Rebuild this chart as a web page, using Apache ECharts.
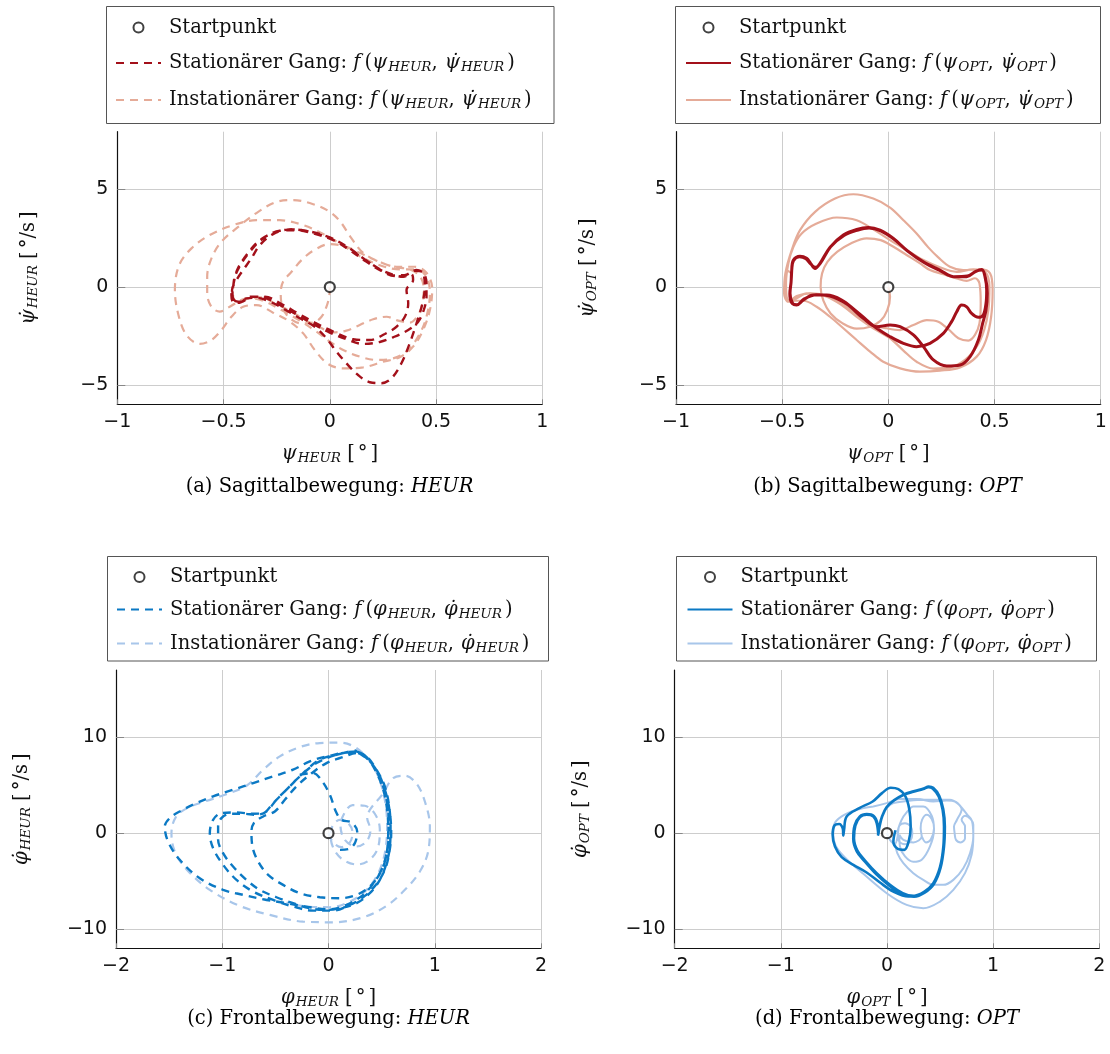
<!DOCTYPE html>
<html>
<head>
<meta charset="utf-8">
<script src="https://cdn.jsdelivr.net/npm/echarts@6/dist/echarts.min.js"></script>
<style>
html,body{margin:0;padding:0;background:#fff;}
#chart{width:1110px;height:1054px;}
</style>
</head>
<body>
<div id="chart"></div>
<script>
// ---------------- data ----------------
const startPoint = [[0, 0]];

const sagYTicks = [-5, 0, 5];
const froYTicks = [-10, 0, 10];

// (a) psi HEUR, stationary
const psiHeurStat = [
[-0.455,0.02],[-0.436,0.87],[-0.392,1.64],[-0.329,2.40],[-0.251,2.83],[-0.173,2.95],[-0.094,2.83],[0,2.49],[0.078,2.03],[0.157,1.47],[0.235,0.90],[0.298,0.60],[0.353,0.61],[0.400,0.83],[0.436,0.78],[0.455,0.19],[0.455,-0.49],[0.442,-1.18],[0.416,-1.77],[0.369,-2.20],[0.298,-2.57],[0.235,-2.81],[0.157,-2.91],[0.078,-2.67],[0,-2.33],[-0.078,-1.89],[-0.157,-1.40],[-0.235,-0.92],[-0.314,-0.53],[-0.376,-0.49],[-0.424,-0.80],[-0.452,-0.80],[-0.463,-0.41],[-0.455,0.02],
[-0.447,0.53],[-0.416,1.21],[-0.376,1.81],[-0.314,2.49],[-0.235,2.88],[-0.157,2.91],[-0.078,2.74],[0.016,2.40],[0.094,1.89],[0.173,1.29],[0.243,0.83],[0.306,0.56],[0.361,0.63],[0.408,0.87],[0.439,0.70],[0.447,0.02],[0.436,-0.83],[0.408,-1.86],[0.376,-2.88],[0.337,-3.90],[0.290,-4.67],[0.243,-4.92],[0.188,-4.87],[0.133,-4.50],[0.078,-3.90],[0.031,-3.30],[-0.016,-2.62],[-0.071,-2.03],[-0.141,-1.60],[-0.212,-1.14],[-0.282,-0.75],[-0.345,-0.55],[-0.392,-0.58],[-0.431,-0.75],[-0.455,-0.58],[-0.460,-0.15],
[-0.439,0.36],[-0.408,0.87],[-0.369,1.47],[-0.329,2.15],[-0.267,2.71],[-0.188,2.95],[-0.102,2.86],[0,2.54],[0.086,2.03],[0.165,1.41],[0.243,0.87],[0.298,0.63],[0.345,0.53],[0.384,0.66],[0.392,0.36],[0.361,-0.15],[0.369,-0.83],[0.353,-1.52],[0.314,-2.03],[0.259,-2.40],[0.188,-2.71],[0.110,-2.67],[0.016,-2.28],[-0.071,-1.82],[-0.149,-1.35],[-0.227,-0.87],[-0.306,-0.49],[-0.369,-0.49],[-0.416,-0.75],[-0.447,-0.75],[-0.458,-0.32],[-0.452,0.10]
];
// (a) psi HEUR, instationary
const psiHeurInst = [
[0,0],[-0.003,-0.49],[-0.016,-1.01],[-0.039,-1.52],[-0.078,-1.82],[-0.133,-1.86],[-0.188,-1.60],[-0.223,-1.01],[-0.231,-0.32],[-0.220,0.27],[-0.180,0.78],[-0.133,1.38],[-0.078,1.86],[0,2.20],[0.078,2.06],[0.141,1.75],[0.220,1.35],[0.298,1.04],[0.376,0.90],[0.424,0.56],[0.442,-0.12],[0.436,-0.83],[0.416,-1.43],[0.376,-1.82],[0.322,-1.72],[0.267,-1.52],[0.204,-1.65],[0.141,-1.94],[0.078,-2.23],[0.016,-2.32],[-0.047,-2.06],[-0.110,-1.72],[-0.173,-1.31],[-0.251,-0.87],[-0.329,-0.53],[-0.408,-0.63],[-0.471,-1.01],[-0.518,-1.26],[-0.557,-1.01],[-0.577,-0.32],[-0.577,0.53],[-0.557,1.47],[-0.510,2.32],[-0.431,3.08],[-0.337,3.85],[-0.251,4.36],[-0.173,4.45],[-0.078,4.24],[0,3.85],[0.050,3.34],[0.097,2.57],[0.157,1.75],[0.235,1.29],[0.314,1.04],[0.400,1.04],[0.455,0.73],[0.482,-0.07],[0.471,-1.18],[0.439,-2.20],[0.392,-3.05],[0.329,-3.59],[0.251,-3.82],[0.157,-4.11],[0.063,-4.16],[-0.008,-3.94],[-0.071,-3.22],[-0.125,-2.37],[-0.188,-1.77],[-0.267,-1.31],[-0.345,-0.92],[-0.408,-1.01],[-0.463,-1.52],[-0.510,-2.20],[-0.557,-2.71],[-0.612,-2.91],[-0.675,-2.45],[-0.714,-1.35],[-0.729,-0.15],[-0.709,1.12],[-0.651,1.98],[-0.565,2.66],[-0.455,3.17],[-0.345,3.42],[-0.235,3.42],[-0.125,3.17],[-0.031,2.71],[0.047,2.23],[0.141,1.58],[0.235,1.12],[0.329,0.90],[0.408,0.90],[0.455,0.53],[0.471,-0.32],[0.455,-1.52],[0.424,-2.37],[0.369,-3.22],[0.298,-3.65],[0.220,-3.73],[0.141,-3.56],[0.063,-3.22],[0,-2.79],[-0.063,-2.28],[-0.141,-1.72],[-0.227,-1.18],[-0.314,-0.70],[-0.376,-0.58],[-0.431,-0.80],[-0.455,-0.49],[-0.455,0.02]
];

// (b) psi OPT, stationary
const psiOptStat = [
[-0.455,0.87],[-0.447,1.38],[-0.416,1.58],[-0.385,1.47],[-0.366,1.21],[-0.345,0.95],[-0.322,1.21],[-0.275,2.03],[-0.212,2.66],[-0.149,2.95],[-0.094,3.05],[-0.039,2.91],[0.024,2.49],[0.086,1.89],[0.165,1.29],[0.243,0.87],[0.306,0.53],[0.369,0.53],[0.408,0.78],[0.440,0.90],[0.455,0.53],[0.463,-0.15],[0.460,-0.83],[0.447,-1.43],[0.424,-1.55],[0.392,-1.35],[0.369,-1.01],[0.345,-0.92],[0.322,-1.26],[0.298,-1.77],[0.259,-2.37],[0.196,-2.88],[0.133,-3.05],[0.071,-2.88],[0.008,-2.54],[-0.055,-2.11],[-0.102,-1.69],[-0.157,-1.18],[-0.220,-0.66],[-0.290,-0.41],[-0.353,-0.41],[-0.400,-0.66],[-0.432,-0.92],[-0.451,-0.83],[-0.463,-0.32],[-0.458,0.27],[-0.455,0.87],
[-0.447,1.35],[-0.419,1.55],[-0.388,1.45],[-0.366,1.18],[-0.343,1.01],[-0.319,1.24],[-0.272,2.06],[-0.209,2.64],[-0.146,2.91],[-0.091,3.02],[-0.036,2.88],[0.027,2.45],[0.089,1.86],[0.168,1.26],[0.246,0.83],[0.309,0.53],[0.372,0.56],[0.411,0.80],[0.441,0.87],[0.458,0.44],[0.466,-0.32],[0.460,-1.18],[0.444,-1.86],[0.424,-2.71],[0.385,-3.56],[0.338,-3.99],[0.275,-4.04],[0.212,-3.73],[0.165,-3.05],[0.118,-2.45],[0.055,-2.03],[0.008,-1.94],[-0.055,-2.03],[-0.118,-1.60],[-0.196,-0.87],[-0.275,-0.46],[-0.340,-0.40],[-0.398,-0.62],[-0.430,-0.90],[-0.452,-0.85],[-0.464,-0.35],[-0.458,0.27],[-0.455,0.87]
];
// (b) psi OPT, instationary
const psiOptInst = [
[0,0],[0.008,-0.49],[-0.005,-1.18],[-0.036,-1.72],[-0.086,-2.03],[-0.149,-2.13],[-0.215,-1.86],[-0.272,-1.35],[-0.306,-0.70],[-0.319,0.02],[-0.312,0.70],[-0.287,1.29],[-0.240,1.81],[-0.177,2.23],[-0.102,2.49],[-0.036,2.40],[0.024,2.06],[0.086,1.64],[0.149,1.21],[0.196,0.87],[0.259,0.66],[0.322,0.44],[0.369,0.32],[0.408,0.45],[0.429,0.19],[0.435,-0.83],[0.429,-1.86],[0.408,-2.45],[0.377,-2.74],[0.330,-2.62],[0.283,-2.16],[0.235,-1.77],[0.181,-1.69],[0.118,-1.94],[0.055,-2.20],[-0.008,-2.11],[-0.071,-1.94],[-0.133,-1.52],[-0.196,-1.01],[-0.259,-0.58],[-0.322,-0.36],[-0.385,-0.32],[-0.432,-0.58],[-0.463,-0.75],[-0.479,-0.49],[-0.482,0.19],[-0.471,1.21],[-0.447,2.06],[-0.408,2.74],[-0.338,3.25],[-0.243,3.56],[-0.149,3.42],[-0.071,2.95],[0.008,2.40],[0.086,1.89],[0.165,1.38],[0.243,1.01],[0.322,0.78],[0.400,0.90],[0.455,0.78],[0.476,0.02],[0.471,-1.18],[0.451,-2.20],[0.416,-3.05],[0.361,-3.73],[0.290,-4.11],[0.212,-4.17],[0.133,-3.82],[0.071,-3.25],[0.008,-2.62],[-0.071,-2.11],[-0.149,-1.52],[-0.220,-0.92],[-0.290,-0.49],[-0.369,-0.32],[-0.432,-0.46],[-0.471,-0.75],[-0.491,-0.32],[-0.485,0.70],[-0.455,1.89],[-0.416,2.91],[-0.345,3.85],[-0.251,4.53],[-0.165,4.75],[-0.071,4.53],[0.008,4.07],[0.071,3.42],[0.133,2.74],[0.188,2.03],[0.235,1.52],[0.290,1.04],[0.353,0.87],[0.432,0.90],[0.479,0.70],[0.491,-0.15],[0.484,-1.52],[0.460,-2.71],[0.416,-3.56],[0.338,-4.11],[0.243,-4.28],[0.149,-4.33],[0.055,-4.16],[-0.024,-3.82],[-0.086,-3.30],[-0.149,-2.71],[-0.212,-2.11],[-0.275,-1.52],[-0.338,-1.01],[-0.400,-0.70],[-0.447,-0.70],[-0.479,-0.58],[-0.487,0.02],[-0.479,0.87],[-0.455,0.70]
];

// (c) phi HEUR, stationary
const phiHeurStat = [
[-0.270,6.09],[-0.144,6.26],[-0.066,5.50],[0.013,4.00],[0.069,2.26],[0.122,1.39],[0.217,1.11],[0.270,0.17],[0.248,-1.04],[0.185,-1.67],[0.107,-1.74],
'-',
[0.264,8.52],[0.358,8.00],[0.452,6.61],[0.530,4.87],[0.571,2.78],[0.584,0.70],[0.578,-1.39],[0.546,-3.13],[0.483,-4.87],[0.389,-6.26],[0.264,-7.30],[0.107,-7.83],[-0.019,-8.00],[-0.176,-7.83],[-0.333,-7.30],[-0.490,-6.68],[-0.647,-5.91],[-0.772,-4.87],[-0.898,-3.48],[-0.992,-2.09],[-1.039,-0.70],[-1.039,0.70],[-1.008,1.57],[-0.929,2.02],[-0.804,2.02],[-0.678,1.91],[-0.584,2.26],[-0.490,3.48],[-0.364,4.87],[-0.239,6.26],[-0.082,7.65],[0.075,8.17],[0.264,8.52],
[0.358,7.93],[0.446,6.43],[0.515,4.52],[0.552,2.43],[0.562,0.35],[0.552,-1.74],[0.515,-3.48],[0.436,-5.04],[0.326,-6.43],[0.169,-7.48],[0.013,-7.93],[-0.176,-7.72],[-0.395,-7.30],[-0.615,-6.89],[-0.804,-6.43],[-0.992,-5.91],[-1.212,-4.70],[-1.400,-2.78],[-1.510,-0.87],[-1.541,0.70],[-1.494,1.57],[-1.400,2.26],[-1.243,3.13],[-1.086,3.83],[-0.898,4.52],[-0.709,5.22],[-0.521,5.91],[-0.333,6.61],[-0.176,7.48],[0.013,8.07],[0.201,8.42],[0.279,8.35],
[0.311,8.17],[0.405,7.30],[0.483,5.74],[0.540,3.83],[0.565,1.74],[0.565,-0.35],[0.540,-2.43],[0.483,-4.17],[0.389,-5.57],[0.264,-6.43],[0.107,-6.78],[-0.082,-6.68],[-0.270,-6.26],[-0.427,-5.39],[-0.568,-4.35],[-0.662,-2.96],[-0.716,-1.39],[-0.725,0.17],[-0.703,1.04],[-0.615,1.74],[-0.505,2.26],[-0.411,3.48],[-0.301,4.87],[-0.176,6.09],[-0.019,7.30],[0.138,7.93],[0.264,8.35],
[0.358,7.83],[0.468,6.26],[0.540,4.17],[0.578,2.09],[0.590,0],[0.571,-2.09],[0.530,-3.83],[0.452,-5.29],[0.342,-6.54],[0.201,-7.48],[0.044,-8.07],[-0.144,-8.07],[-0.333,-7.65],[-0.521,-6.96],[-0.709,-6.09],[-0.866,-4.87],[-0.992,-3.30],[-1.086,-1.57],[-1.117,0],[-1.086,1.39],[-1.008,2.09],[-0.866,2.16],[-0.709,2.02],[-0.615,2.09],[-0.521,3.13],[-0.411,4.35],[-0.270,5.91],[-0.113,7.30],[0.075,8.17],[0.264,8.63]
];
// (c) phi HEUR, instationary
const phiHeurInst = [
[0,0],[0.044,-0.97],[0.122,-1.46],[0.201,-0.97],[0.226,0.07],[0.185,1.04],[0.107,1.39],[0.044,0.87],[0.019,-0.17],[0.050,-1.67],[0.138,-2.78],[0.270,-3.27],[0.395,-2.71],[0.471,-1.32],[0.483,0.42],[0.436,2.02],[0.342,2.85],[0.226,2.92],[0.154,2.16],[0.113,0.77],[0.154,-0.70],[0.264,-1.39],[0.358,-0.87],[0.395,0.35],[0.364,1.57],[0.515,4.17],[0.609,5.74],[0.719,5.98],[0.829,5.15],[0.907,3.30],[0.954,0.70],[0.938,-1.91],[0.860,-4.00],[0.719,-5.91],[0.546,-7.58],[0.326,-8.77],[0.044,-9.29],[-0.239,-9.22],[-0.552,-8.52],[-0.835,-7.58],[-1.117,-5.91],[-1.331,-3.83],[-1.447,-1.91],[-1.478,0],[-1.437,1.67],[-1.331,2.61],[-1.164,3.30],[-0.976,4.00],[-0.772,4.94],[-0.615,6.61],[-0.458,8.00],[-0.270,8.97],[-0.082,9.39],[0.107,9.43],[0.248,8.97],[0.373,7.72],[0.468,5.91],[0.530,3.48],[0.552,0.70],[0.530,-2.09],[0.468,-4.17],[0.358,-5.91],[0.201,-7.13],[0.013,-7.72],[-0.207,-7.65],[-0.395,-7.23]
];

// (d) phi OPT, stationary
const phiOptStat = [
[-0.082,-0.17],[-0.097,1.04],[-0.129,1.74],[-0.192,1.91],[-0.254,1.67],[-0.298,0.77],[-0.311,-0.52],[-0.279,-1.81],[-0.207,-2.85],[-0.097,-4.17],[0.028,-5.39],[0.148,-6.26],[0.248,-6.54],[0.349,-6.12],[0.436,-5.22],[0.499,-3.55],[0.531,-1.39],[0.537,0.70],[0.524,2.43],[0.487,3.83],[0.430,4.66],[0.389,4.80],[0.342,4.59],[0.248,4.31],[0.154,3.97],[0.066,3.41],[-0.003,2.71],[-0.047,1.74],[-0.072,0.70],[-0.082,-0.17],
[-0.090,1.00],[-0.125,1.80],[-0.190,1.98],[-0.258,1.72],[-0.305,0.80],[-0.318,-0.55],[-0.285,-1.90],[-0.210,-2.95],[-0.100,-4.30],[0.025,-5.50],[0.150,-6.40],[0.255,-6.62],[0.355,-6.20],[0.442,-5.30],[0.505,-3.60],[0.537,-1.40],[0.545,0.70],[0.530,2.50],[0.492,3.90],[0.435,4.72],[0.392,4.85],[0.345,4.65],[0.250,4.36],[0.156,4.02],[0.068,3.45],[0.000,2.75],[-0.045,1.75],[-0.070,0.70],[-0.085,-0.25],
'-',
[0.342,-6.26],[0.201,-6.61],[0.060,-6.09],[-0.066,-5.15],[-0.192,-4.10],[-0.317,-3.30],[-0.427,-2.50],[-0.490,-1.39],[-0.512,-0.17],[-0.495,0.80],[-0.450,0.95],[-0.415,0.40],[-0.412,-0.25],[-0.405,0.30],[-0.380,1.74],[-0.261,2.61],[-0.135,3.30],[-0.047,4.17],[0.035,4.73],[0.107,4.59],[0.170,3.90],[0.210,2.50],[0.223,0.70],[0.204,-0.87],[0.163,-1.74],[0.097,-1.60],[0.060,-0.87],[0.080,0.30]
];
// (d) phi OPT, instationary
const phiOptInst = [
[0,0],[0.028,-0.70],[0.075,-1.11],[0.100,-0.35],[0.116,0.77],[0.170,1.04],[0.223,0.70],[0.239,0],[0.217,-0.87],[0.170,-1.15],[0.116,-0.87],[0.100,0],[0.138,1.39],[0.185,2.16],[0.248,2.78],[0.342,2.78],[0.421,1.81],[0.443,0.35],[0.405,-1.39],[0.327,-2.78],[0.248,-2.99],[0.170,-2.43],[0.122,-1.39],[0.116,-0.17],[0.154,-0.70],[0.248,-0.97],[0.327,-0.35],[0.317,0.52],[0.330,1.39],[0.374,1.91],[0.421,1.46],[0.443,0.52],[0.411,-0.70],[0.367,-0.97],[0.330,-0.40],
'-',
[-0.003,2.61],[0.060,3.13],[0.185,3.34],[0.342,3.48],[0.499,3.48],[0.593,3.48],[0.662,3.13],[0.703,2.50],[0.656,1.32],[0.631,0.70],[0.637,0],[0.650,-0.70],[0.694,-0.97],[0.735,-0.52],[0.735,0.70],[0.703,1.39],[0.735,1.81],[0.788,1.46],[0.813,0.87],[0.813,-0.35],[0.782,-2.09],[0.719,-3.65],[0.625,-4.87],[0.531,-5.39],[0.436,-5.39],[0.342,-4.87],[0.248,-4.17],[0.154,-3.13],[0.097,-2.09],[0.075,-1.10],
'-',
[-0.129,2.78],[-0.286,2.43],[-0.427,1.74],[-0.499,0.87],[-0.506,0],[-0.480,-1.39],[-0.380,-2.71],[-0.223,-4.24],[-0.003,-6.26],[0.185,-7.48],[0.342,-7.83],[0.499,-7.13],[0.625,-5.91],[0.735,-4.17],[0.797,-2.26],[0.813,-0.30],[0.800,1.30],[0.757,1.90],[0.700,2.70],[0.650,3.25],[0.562,3.40],[0.436,3.30],[0.279,3.55],[0.122,3.55],[-0.003,3.13],[-0.129,2.78]
];

// ---------------- styling ----------------
const SERIF = 'DejaVu Serif';
const SANS = 'DejaVu Sans';
const TXT = '#111';
const RED = '#a3101a', RED_L = '#e5ab98', BLUE = '#0b79c4', BLUE_L = '#a8c6ea';
const DASH = [8, 6];

const FS = 19.5;
function rich(lh) {
  return {
    n: {fontFamily: SERIF, fontSize: FS, color: TXT, lineHeight: lh},
    i: {fontFamily: SERIF, fontStyle: 'italic', fontSize: FS, color: TXT, lineHeight: lh},
    f: {fontFamily: SERIF, fontStyle: 'italic', fontSize: FS, color: TXT, lineHeight: lh, padding: [0, 4, 0, 0]},
    g: {fontFamily: SERIF, fontStyle: 'italic', fontSize: FS, color: TXT, lineHeight: lh, padding: [0, 1, 0, 0]},
    c: {fontFamily: SERIF, fontSize: FS, color: TXT, lineHeight: lh, padding: [0, 7, 0, 0]},
    p: {fontFamily: SERIF, fontSize: FS, color: TXT, lineHeight: lh, padding: [0, 0, 0, 3]},
    d: {fontFamily: SERIF, fontSize: FS, color: TXT, lineHeight: lh, padding: [0, 3, 0, 3]},
    s: {fontFamily: SERIF, fontStyle: 'italic', fontSize: 13.5, color: TXT, lineHeight: 13, padding: [9, 0, 0, 0]}
  };
}
const DOT = '\u0307';
function pair(sym, sub) {
  return '{f|f}{n|(}{g|' + sym + '}{s|' + sub + '}{c|,}{g|' + sym + DOT + '}{s|' + sub + '}{p|)}';
}
const labels = {
  a0: '{n|Startpunkt}', a1: '{n|Stationärer Gang: }' + pair('ψ', 'HEUR'), a2: '{n|Instationärer Gang: }' + pair('ψ', 'HEUR'),
  b0: '{n|Startpunkt}', b1: '{n|Stationärer Gang: }' + pair('ψ', 'OPT'), b2: '{n|Instationärer Gang: }' + pair('ψ', 'OPT'),
  c0: '{n|Startpunkt}', c1: '{n|Stationärer Gang: }' + pair('φ', 'HEUR'), c2: '{n|Instationärer Gang: }' + pair('φ', 'HEUR'),
  d0: '{n|Startpunkt}', d1: '{n|Stationärer Gang: }' + pair('φ', 'OPT'), d2: '{n|Instationärer Gang: }' + pair('φ', 'OPT')
};
const xName = (sym, sub) => '{g|' + sym + '}{s|' + sub + '}{n| [}{d|°}{n|]}';
const yName = (sym, sub) => '{g|' + sym + DOT + '}{s|' + sub + '}{n| [}{d|°/s}{n|]}';

const grids = [
  {left: 117.3, top: 131.7, width: 425, height: 272.6},
  {left: 676, top: 131.7, width: 424.7, height: 272.6},
  {left: 116, top: 670, width: 425, height: 278.3},
  {left: 674.7, top: 670, width: 424.6, height: 278.3}
];
const fmt = v => String(v).replace('-', '\u2212');

function xAxis(i, min, max, interval, nameStr) {
  return {
    type: 'value', gridIndex: i, min: min, max: max, interval: interval,
    axisLine: {show: true, onZero: false, lineStyle: {color: '#111', width: 1.2}},
    axisTick: {show: true, inside: true, length: 5, lineStyle: {color: '#888'}},
    splitLine: {show: true, lineStyle: {color: '#cdcdcd', width: 1}},
    axisLabel: {formatter: fmt, fontFamily: SANS, fontSize: 19, color: TXT, margin: 8},
    name: nameStr, nameLocation: 'middle', nameGap: 38,
    nameTextStyle: {rich: rich(24)}
  };
}
function yAxis(i, min, max, ticks, nameStr, gap) {
  return {
    type: 'value', gridIndex: i, min: min, max: max,
    axisLine: {show: true, onZero: false, lineStyle: {color: '#111', width: 1.2}},
    axisTick: {show: true, inside: true, length: 8, lineStyle: {color: '#888'}, customValues: ticks},
    splitLine: {show: true, lineStyle: {color: '#cdcdcd', width: 1}},
    axisLabel: {formatter: fmt, fontFamily: SANS, fontSize: 19, color: TXT, margin: 9, customValues: ticks},
    name: nameStr, nameLocation: 'middle', nameGap: gap, nameRotate: 90,
    nameTextStyle: {rich: rich(24)}
  };
}

function lineSeries(name, i, data, color, width, dashed) {
  return {
    type: 'line', name: name, xAxisIndex: i, yAxisIndex: i, data: data,
    showSymbol: false, symbol: 'none', smooth: 0.35, clip: true, connectNulls: false,
    lineStyle: {color: color, width: width, type: dashed ? DASH : 'solid', cap: 'butt'},
    itemStyle: {color: color}, animation: false, z: 2
  };
}
function startSeries(name, i) {
  return {
    type: 'scatter', name: name, xAxisIndex: i, yAxisIndex: i, data: startPoint,
    symbol: 'circle', symbolSize: 10,
    itemStyle: {color: '#fff', borderColor: '#111', borderWidth: 2.2}, z: 10, animation: false
  };
}
function legend(prefix, left, top, gap) {
  return {
    orient: 'vertical', left: left, top: top, itemWidth: 45, itemHeight: 10, itemGap: gap, padding: 0,
    selectedMode: false,
    data: [
      {name: prefix + '0', itemStyle: {color: '#fff', borderColor: '#111', borderWidth: 2}},
      {name: prefix + '1', itemStyle: {opacity: 0}},
      {name: prefix + '2', itemStyle: {opacity: 0}}
    ],
    formatter: n => labels[n],
    textStyle: {rich: rich(22), padding: [0, 0, 0, 3]}
  };
}
function caption(x, y, text) {
  return {type: 'text', x: x, y: y, style: {text: text, rich: rich(24), align: 'center', verticalAlign: 'middle'}};
}
function box(x, y, w, h) {
  return {type: 'rect', shape: {x: x, y: y, width: w, height: h}, style: {fill: 'none', stroke: '#555', lineWidth: 1}};
}

const option = {
  backgroundColor: '#fff',
  animation: false,
  grid: grids,
  xAxis: [
    xAxis(0, -1, 1, 0.5, xName('ψ', 'HEUR')),
    xAxis(1, -1, 1, 0.5, xName('ψ', 'OPT')),
    xAxis(2, -2, 2, 1, xName('φ', 'HEUR')),
    xAxis(3, -2, 2, 1, xName('φ', 'OPT'))
  ],
  yAxis: [
    yAxis(0, -6, 7.95, sagYTicks, yName('ψ', 'HEUR'), 76),
    yAxis(1, -6, 7.95, sagYTicks, yName('ψ', 'OPT'), 76),
    yAxis(2, -12, 17, froYTicks, yName('φ', 'HEUR'), 82),
    yAxis(3, -12, 17, froYTicks, yName('φ', 'OPT'), 82)
  ],
  legend: [
    legend('a', 115, 17.5, 14),
    legend('b', 685, 17.5, 14),
    legend('c', 116, 567, 11),
    legend('d', 686.5, 567, 11)
  ],
  series: [
    lineSeries('a2', 0, psiHeurInst, RED_L, 2.2, true),
    lineSeries('a1', 0, psiHeurStat, RED, 2.4, true),
    startSeries('a0', 0),
    lineSeries('b2', 1, psiOptInst, RED_L, 2.2, false),
    lineSeries('b1', 1, psiOptStat, RED, 3.0, false),
    startSeries('b0', 1),
    lineSeries('c2', 2, phiHeurInst, BLUE_L, 2.2, true),
    lineSeries('c1', 2, phiHeurStat, BLUE, 2.4, true),
    startSeries('c0', 2),
    lineSeries('d2', 3, phiOptInst, BLUE_L, 2.0, false),
    lineSeries('d1', 3, phiOptStat, BLUE, 2.6, false),
    startSeries('d0', 3)
  ],
  graphic: [
    box(106.5, 6.5, 447.5, 117),
    box(675.5, 6.5, 425, 117),
    box(107.5, 556.5, 441, 104.5),
    box(676.5, 556.5, 420, 104.5),
    caption(329.5, 487, '{n|(a) Sagittalbewegung: }{i|HEUR}'),
    caption(887.5, 487, '{n|(b) Sagittalbewegung: }{i|OPT}'),
    caption(328.5, 1019, '{n|(c) Frontalbewegung: }{i|HEUR}'),
    caption(887, 1019, '{n|(d) Frontalbewegung: }{i|OPT}')
  ]
};
const chart = echarts.init(document.getElementById('chart'), null, {renderer: 'canvas'});
chart.setOption(option);
</script>
</body>
</html>
